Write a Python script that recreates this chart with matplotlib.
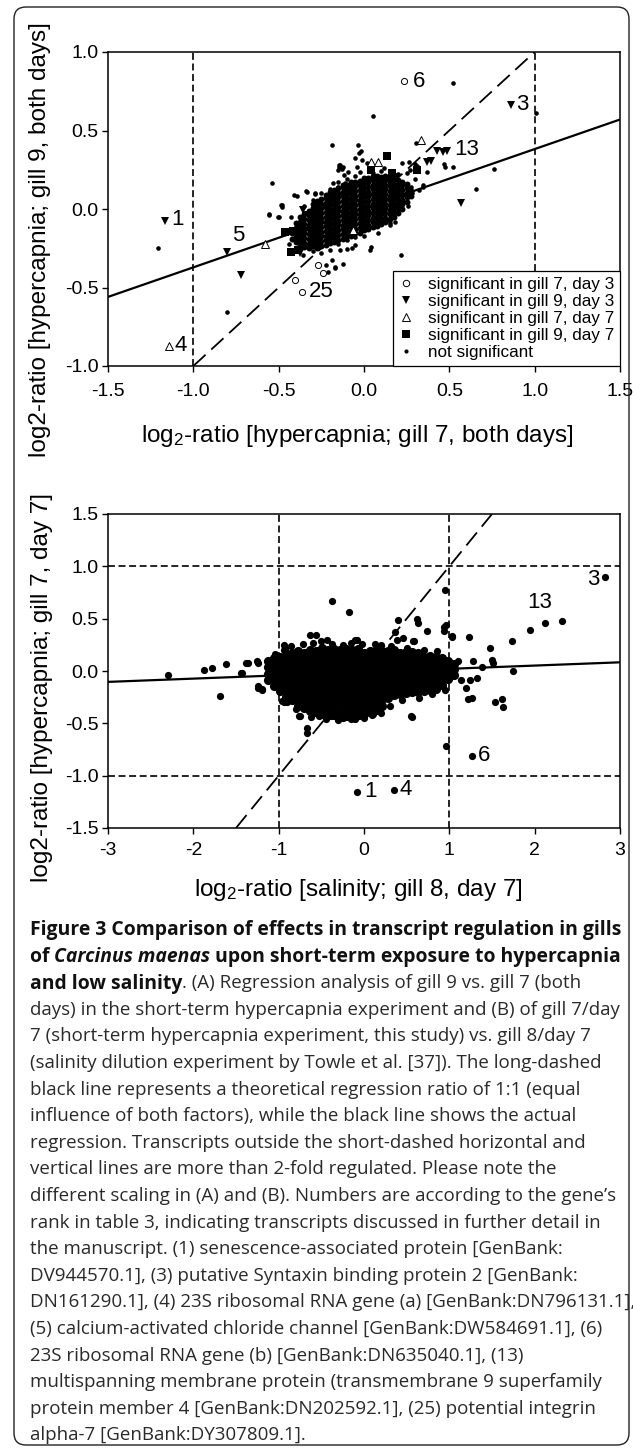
import matplotlib
matplotlib.use('Agg')
import matplotlib.pyplot as plt
from matplotlib.patches import FancyBboxPatch
from matplotlib.ticker import FormatStrFormatter
from matplotlib.lines import Line2D

plt.rcParams['font.family'] = ['Liberation Sans', 'DejaVu Sans']
plt.rcParams['axes.unicode_minus'] = False
plt.rcParams['lines.scale_dashes'] = False
plt.rcParams['mathtext.fontset'] = 'custom'
plt.rcParams['mathtext.rm'] = 'Liberation Sans'
plt.rcParams['mathtext.it'] = 'Liberation Sans:italic'
plt.rcParams['mathtext.bf'] = 'Liberation Sans:bold'

# ---------------- Panel A data ----------------
a_g7d3_x = [0.234, -0.405, -0.365, -0.268, -0.239]
a_g7d3_y = [0.817, -0.452, -0.527, -0.357, -0.406]
a_g9d3_x = [-1.166, -0.805, -0.72, 0.859, 0.43, 0.464, 0.484, 0.39, 0.566, -0.356, -0.327, 0.367, -0.375]
a_g9d3_y = [-0.074, -0.276, -0.42, 0.662, 0.37, 0.36, 0.37, 0.306, 0.036, -0.006, -0.038, 0.30, -0.28]
a_g7d7_x = [-1.143, -0.58, 0.334, 0.041, 0.08, -0.063]
a_g7d7_y = [-0.871, -0.225, 0.44, 0.297, 0.297, -0.134]
a_g9d7_x = [0.133, 0.041, 0.162, 0.312, -0.463, -0.414, -0.43, -0.389]
a_g9d7_y = [0.338, 0.248, 0.23, 0.248, -0.145, -0.138, -0.272, -0.261]
a_ns_pts = [
    (0.523, 0.80), (1.01, 0.61), (0.051, 0.592), (0.304, 0.42), (-0.186, 0.408), (-0.034, 0.41),
    (-0.018, 0.37), (0.22, 0.29), (0.298, 0.285), (0.474, 0.27), (0.52, 0.265), (0.763, 0.253),
    (0.656, 0.125), (-0.336, 0.11), (-0.287, 0.094), (-0.147, 0.27), (-0.13, 0.255), (-0.541, 0.168),
    (-0.482, 0.025), (-0.395, 0.083), (-1.209, -0.246), (-0.805, -0.654), (-0.487, 0.026),
    (-0.557, -0.038), (-0.498, -0.049), (-0.43, -0.049), (0.218, -0.293), (0.04, -0.24),
    (-0.125, -0.352), (-0.172, -0.373), (-0.224, -0.356), (-0.054, -0.23), (-0.073, -0.247),
    (0.035, -0.261), (-0.141, -0.261), (-0.102, -0.255), (-0.19, -0.325), (-0.17, -0.367),
    (-0.209, -0.40), (0.152, -0.102), (0.181, -0.081), (0.133, -0.07), (0.28, 0.10), (0.347, 0.142),
    (0.19, 0.217), (0.25, 0.227), (0.27, 0.248), (-0.014, 0.312), (0.015, 0.29), (-0.043, 0.27),
    (-0.024, 0.238), (-0.141, 0.28), (-0.15, 0.248), (-0.12, 0.217), (-0.18, 0.164), (-0.15, 0.142),
    (-0.112, 0.164), (-0.054, 0.323), (-0.03, 0.357), (-0.149, 0.283), (-0.125, 0.266), (-0.096, 0.234),
    (0.263, 0.298), (0.312, 0.276), (0.371, 0.234), (0.466, 0.287), (0.275, 0.14), (0.348, 0.15),
    (0.154, -0.086), (-0.479, 0.013), (-0.503, -0.051), (-0.554, -0.03), (-0.408, 0.087),
    (-0.337, 0.112), (-0.29, 0.102), (-0.30, -0.27), (-0.25, -0.28), (-0.20, -0.26), (-0.15, -0.22),
    (-0.10, -0.20), (-0.05, -0.18), (0.0, -0.17), (0.08, -0.15), (-0.35, 0.02), (-0.30, 0.06),
    (-0.25, 0.10), (-0.20, 0.13), (-0.15, 0.17), (-0.10, 0.19), (-0.05, 0.21), (0.05, 0.23),
    (0.10, 0.24), (0.15, 0.23), (0.30, 0.19), (0.32, 0.12), (0.22, 0.05), (0.26, 0.02),
    (-0.44, -0.22), (-0.40, -0.26), (-0.36, -0.29), (0.12, 0.26), (0.20, 0.22),
]
a_ns_core = [
    (-0.42, [-0.19, -0.15]),
    (-0.40, [-0.21, -0.18, -0.15, -0.12, -0.09]),
    (-0.375, [-0.23, -0.20, -0.17, -0.14, -0.11, -0.08, -0.05]),
    (-0.35, [-0.245, -0.215, -0.185, -0.155, -0.125, -0.095, -0.065, -0.035]),
    (-0.325, [-0.25, -0.22, -0.19, -0.16, -0.13, -0.10, -0.07, -0.04, -0.01]),
    (-0.30, [-0.235, -0.205, -0.175, -0.145, -0.115, -0.085, -0.055, -0.025, 0.005, 0.03]),
    (-0.275, [-0.25, -0.22, -0.19, -0.16, -0.13, -0.10, -0.07, -0.04, -0.01, 0.02, 0.05]),
    (-0.25, [-0.235, -0.205, -0.175, -0.145, -0.115, -0.085, -0.055, -0.025, 0.005, 0.035, 0.065]),
    (-0.225, [-0.23, -0.20, -0.17, -0.14, -0.11, -0.08, -0.05, -0.02, 0.01, 0.04, 0.07, 0.09]),
    (-0.20, [-0.215, -0.185, -0.155, -0.125, -0.095, -0.065, -0.035, -0.005, 0.025, 0.055, 0.085, 0.11]),
    (-0.175, [-0.21, -0.18, -0.15, -0.12, -0.09, -0.06, -0.03, 0.0, 0.03, 0.06, 0.09, 0.12]),
    (-0.15, [-0.195, -0.165, -0.135, -0.105, -0.075, -0.045, -0.015, 0.015, 0.045, 0.075, 0.105, 0.135]),
    (-0.125, [-0.19, -0.16, -0.13, -0.10, -0.07, -0.04, -0.01, 0.02, 0.05, 0.08, 0.11, 0.14, 0.155]),
    (-0.10, [-0.175, -0.145, -0.115, -0.085, -0.055, -0.025, 0.005, 0.035, 0.065, 0.095, 0.125, 0.155]),
    (-0.075, [-0.17, -0.14, -0.11, -0.08, -0.05, -0.02, 0.01, 0.04, 0.07, 0.10, 0.13, 0.16, 0.175]),
    (-0.05, [-0.155, -0.125, -0.095, -0.065, -0.035, -0.005, 0.025, 0.055, 0.085, 0.115, 0.145, 0.175]),
    (-0.025, [-0.15, -0.12, -0.09, -0.06, -0.03, 0.0, 0.03, 0.06, 0.09, 0.12, 0.15, 0.18]),
    (0.0, [-0.135, -0.105, -0.075, -0.045, -0.015, 0.015, 0.045, 0.075, 0.105, 0.135, 0.165, 0.195]),
    (0.025, [-0.13, -0.10, -0.07, -0.04, -0.01, 0.02, 0.05, 0.08, 0.11, 0.14, 0.17, 0.20]),
    (0.05, [-0.115, -0.085, -0.055, -0.025, 0.005, 0.035, 0.065, 0.095, 0.125, 0.155, 0.185, 0.21]),
    (0.075, [-0.11, -0.08, -0.05, -0.02, 0.01, 0.04, 0.07, 0.10, 0.13, 0.16, 0.19, 0.21]),
    (0.10, [-0.095, -0.065, -0.035, -0.005, 0.025, 0.055, 0.085, 0.115, 0.145, 0.175, 0.205]),
    (0.125, [-0.085, -0.055, -0.025, 0.005, 0.035, 0.065, 0.095, 0.125, 0.155, 0.185, 0.21]),
    (0.15, [-0.065, -0.035, -0.005, 0.025, 0.055, 0.085, 0.115, 0.145, 0.175, 0.20]),
    (0.175, [-0.05, -0.02, 0.01, 0.04, 0.07, 0.10, 0.13, 0.16, 0.19]),
    (0.20, [-0.025, 0.005, 0.035, 0.065, 0.095, 0.125, 0.155, 0.185]),
    (0.225, [0.0, 0.03, 0.06, 0.09, 0.12, 0.15, 0.175]),
    (0.25, [0.045, 0.075, 0.105, 0.135, 0.16]),
    (0.275, [0.085, 0.115]),
]
a_reg_x = [-1.5, 1.5]
a_reg_y = [-0.56, 0.57]
a_unity = [-1.0, 1.0]
a_labels = [('6', 0.285, 0.81), ('3', 0.89, 0.665), ('13', 0.53, 0.38), ('1', -1.13, -0.07),
            ('5', -0.775, -0.17), ('4', -1.11, -0.87), ('25', -0.325, -0.527)]
a_xticks = [-1.5, -1.0, -0.5, 0.0, 0.5, 1.0, 1.5]
a_yticks = [-1.0, -0.5, 0.0, 0.5, 1.0]
legend_labels = ['significant in gill 7, day 3', 'significant in gill 9, day 3',
                 'significant in gill 7, day 7', 'significant in gill 9, day 7', 'not significant']

# ---------------- Panel B data ----------------
b_pts = [
    (-2.293, -0.038), (-1.875, 0.010), (-1.785, 0.032), (-1.62, 0.064), (-1.687, -0.238), (-1.44, -0.016),
    (-1.356, 0.074), (-1.257, 0.096), (-1.24, -0.159), (-1.2, -0.18), (-0.934, -0.30), (-0.926, 0.223),
    (-0.92, 0.194), (-1.04, 0.16), (-0.77, -0.31), (-0.758, -0.426), (-0.378, 0.669), (-0.172, 0.567),
    (0.95, 0.774), (0.402, 0.488), (0.617, 0.494), (0.637, 0.456), (0.363, 0.376), (0.383, 0.297),
    (0.735, 0.383), (0.937, 0.383), (0.961, 0.44), (1.03, 0.328), (1.234, 0.328), (0.59, 0.287),
    (-0.566, 0.344), (-0.086, 0.297), (1.477, 0.217), (1.74, 0.287), (1.106, 0.096), (1.28, 0.096),
    (1.497, 0.106), (1.379, 0.042), (1.515, 0.074), (1.75, 0.0), (1.137, -0.085), (1.242, -0.085),
    (1.32, -0.069), (1.19, -0.159), (1.262, -0.255), (1.535, -0.293), (1.621, -0.267), (1.625, -0.34),
    (0.961, -0.713), (1.27, -0.808), (-0.078, -1.158), (0.352, -1.136), (0.567, -0.442), (0.09, -0.42),
    (-0.672, -0.547), (-0.672, -0.595), (2.822, 0.894), (1.95, 0.39), (2.12, 0.46), (2.32, 0.48),
    (-0.627, 0.345), (-0.437, 0.298), (-0.107, 0.298), (0.129, 0.26), (0.46, 0.314), (0.578, 0.282),
    (0.932, 0.425), (1.027, 0.33), (-1.242, 0.077), (-1.38, 0.077), (-1.43, -0.02), (-1.24, -0.145),
    (-1.195, -0.176), (-0.934, 0.203), (-0.934, 0.25), (-0.96, -0.286), (-0.745, -0.43), (-0.533, -0.43),
    (-0.391, -0.43), (-0.249, -0.445), (-0.107, -0.46), (-0.06, -0.43), (0.106, -0.414), (0.555, -0.43),
    (1.216, -0.27),
    (-0.85, 0.24), (-0.72, 0.26), (-0.60, 0.27), (-0.50, 0.29), (-0.38, 0.26), (-0.25, 0.25),
    (-0.15, 0.27), (-0.02, 0.26), (0.20, 0.25), (0.32, 0.24), (0.50, 0.22), (0.70, 0.20), (0.85, 0.19),
    (-0.90, -0.30), (-0.80, -0.36), (-0.62, -0.44), (-0.45, -0.46), (-0.30, -0.47), (-0.15, -0.46),
    (0.0, -0.45), (0.20, -0.40), (0.30, -0.33), (0.45, -0.28), (0.65, -0.26), (0.80, -0.22), (0.95, -0.18),
]
b_core = [
    (-1.12, [-0.09, -0.025, 0.04, 0.10]),
    (-1.05, [-0.14, -0.075, -0.01, 0.055, 0.12]),
    (-0.98, [-0.19, -0.125, -0.06, 0.005, 0.07, 0.135]),
    (-0.91, [-0.245, -0.18, -0.115, -0.05, 0.015, 0.08, 0.145]),
    (-0.84, [-0.28, -0.215, -0.15, -0.085, -0.02, 0.045, 0.11, 0.175]),
    (-0.77, [-0.33, -0.265, -0.20, -0.135, -0.07, -0.005, 0.06, 0.125, 0.19]),
    (-0.70, [-0.35, -0.285, -0.22, -0.155, -0.09, -0.025, 0.04, 0.105, 0.17]),
    (-0.63, [-0.38, -0.315, -0.25, -0.185, -0.12, -0.055, 0.01, 0.075, 0.14, 0.20]),
    (-0.56, [-0.395, -0.33, -0.265, -0.20, -0.135, -0.07, -0.005, 0.06, 0.125, 0.19]),
    (-0.49, [-0.41, -0.345, -0.28, -0.215, -0.15, -0.085, -0.02, 0.045, 0.11, 0.175, 0.22]),
    (-0.42, [-0.42, -0.355, -0.29, -0.225, -0.16, -0.095, -0.03, 0.035, 0.10, 0.165, 0.20]),
    (-0.35, [-0.425, -0.36, -0.295, -0.23, -0.165, -0.10, -0.035, 0.03, 0.095, 0.16, 0.21]),
    (-0.28, [-0.43, -0.365, -0.30, -0.235, -0.17, -0.105, -0.04, 0.025, 0.09, 0.155, 0.20]),
    (-0.21, [-0.43, -0.365, -0.30, -0.235, -0.17, -0.105, -0.04, 0.025, 0.09, 0.155, 0.21]),
    (-0.14, [-0.43, -0.365, -0.30, -0.235, -0.17, -0.105, -0.04, 0.025, 0.09, 0.155, 0.20]),
    (-0.07, [-0.42, -0.355, -0.29, -0.225, -0.16, -0.095, -0.03, 0.035, 0.10, 0.165, 0.21]),
    (0.00, [-0.41, -0.345, -0.28, -0.215, -0.15, -0.085, -0.02, 0.045, 0.11, 0.175]),
    (0.07, [-0.39, -0.325, -0.26, -0.195, -0.13, -0.065, 0.0, 0.065, 0.13, 0.195]),
    (0.14, [-0.37, -0.305, -0.24, -0.175, -0.11, -0.045, 0.02, 0.085, 0.15, 0.20]),
    (0.21, [-0.33, -0.265, -0.20, -0.135, -0.07, -0.005, 0.06, 0.125, 0.19]),
    (0.28, [-0.26, -0.195, -0.13, -0.065, 0.0, 0.065, 0.13, 0.19]),
    (0.35, [-0.23, -0.165, -0.10, -0.035, 0.03, 0.095, 0.16, 0.20]),
    (0.42, [-0.22, -0.155, -0.09, -0.025, 0.04, 0.105, 0.17]),
    (0.49, [-0.21, -0.145, -0.08, -0.015, 0.05, 0.115, 0.18]),
    (0.56, [-0.20, -0.135, -0.07, -0.005, 0.06, 0.125, 0.18]),
    (0.63, [-0.20, -0.135, -0.07, -0.005, 0.06, 0.125, 0.17]),
    (0.70, [-0.19, -0.125, -0.06, 0.005, 0.07, 0.135]),
    (0.77, [-0.18, -0.115, -0.05, 0.015, 0.08, 0.14]),
    (0.84, [-0.17, -0.105, -0.04, 0.025, 0.09, 0.13]),
    (0.91, [-0.13, -0.065, 0.0, 0.065, 0.12]),
    (0.98, [-0.08, -0.015, 0.05, 0.10]),
    (1.05, [-0.04, 0.02, 0.07]),
]
b_reg_x = [-3.0, 3.0]
b_reg_y = [-0.104, 0.083]
b_unity = [-1.5, 1.5]
b_labels = [('3', 2.76, 0.87, 'right'), ('13', 2.06, 0.65, 'center'), ('6', 1.33, -0.81, 'left'),
            ('1', 0.0, -1.155, 'left'), ('4', 0.415, -1.135, 'left')]
b_xticks = [-3, -2, -1, 0, 1, 2, 3]
b_yticks = [-1.5, -1.0, -0.5, 0.0, 0.5, 1.0, 1.5]

caption_lines = [
    [("Figure 3 Comparison of effects in transcript regulation in gills", 'bold', 'normal')],
    [("of ", 'bold', 'normal'), ("Carcinus maenas", 'bold', 'italic'),
     (" upon short-term exposure to hypercapnia", 'bold', 'normal')],
    [("and low salinity", 'bold', 'normal'),
     (". (A) Regression analysis of gill 9 vs. gill 7 (both", 'normal', 'normal')],
    [("days) in the short-term hypercapnia experiment and (B) of gill 7/day", 'normal', 'normal')],
    [("7 (short-term hypercapnia experiment, this study) vs. gill 8/day 7", 'normal', 'normal')],
    [("(salinity dilution experiment by Towle et al. [37]). The long-dashed", 'normal', 'normal')],
    [("black line represents a theoretical regression ratio of 1:1 (equal", 'normal', 'normal')],
    [("influence of both factors), while the black line shows the actual", 'normal', 'normal')],
    [("regression. Transcripts outside the short-dashed horizontal and", 'normal', 'normal')],
    [("vertical lines are more than 2-fold regulated. Please note the", 'normal', 'normal')],
    [("different scaling in (A) and (B). Numbers are according to the gene\u2019s", 'normal', 'normal')],
    [("rank in table 3, indicating transcripts discussed in further detail in", 'normal', 'normal')],
    [("the manuscript. (1) senescence-associated protein [GenBank:", 'normal', 'normal')],
    [("DV944570.1], (3) putative Syntaxin binding protein 2 [GenBank:", 'normal', 'normal')],
    [("DN161290.1], (4) 23S ribosomal RNA gene (a) [GenBank:DN796131.1],", 'normal', 'normal')],
    [("(5) calcium-activated chloride channel [GenBank:DW584691.1], (6)", 'normal', 'normal')],
    [("23S ribosomal RNA gene (b) [GenBank:DN635040.1], (13)", 'normal', 'normal')],
    [("multispanning membrane protein (transmembrane 9 superfamily", 'normal', 'normal')],
    [("protein member 4 [GenBank:DN202592.1], (25) potential integrin", 'normal', 'normal')],
    [("alpha-7 [GenBank:DY307809.1].", 'normal', 'normal')],
]

# ---------------- Figure ----------------
W, H = 633, 1451
fig = plt.figure(figsize=(W / 100, H / 100), dpi=100)
fig.patch.set_facecolor('white')

def axrect(l, t, r, b):
    return [l / W, 1 - b / H, (r - l) / W, (b - t) / H]

ax1 = fig.add_axes(axrect(108, 52, 620, 366))
ax2 = fig.add_axes(axrect(108, 514, 620, 828))

short_dash = (0, (5.0, 2.6))
long_dash = (0, (12.0, 5.5))

# Panel A
ax1.axvline(-1, color='black', lw=1.2, ls=short_dash, zorder=1)
ax1.axvline(1, color='black', lw=1.2, ls=short_dash, zorder=1)
ax1.plot(a_unity, a_unity, color='black', lw=1.3, ls=long_dash, zorder=1)
ax1.plot(a_reg_x, a_reg_y, color='black', lw=1.6, zorder=2)
core_x = [cx for cx, ys in a_ns_core for _ in ys]
core_y = [cy for cx, ys in a_ns_core for cy in ys]
ax1.plot([p[0] for p in a_ns_pts], [p[1] for p in a_ns_pts], ls='none', marker='o', ms=3.3,
         mfc='black', mec='black', mew=0, zorder=3)
# dense, overlapping core of the same "not significant" series
ax1.plot(core_x, core_y, ls='none', marker='o', ms=4.3, mfc='black', mec='black', mew=0, zorder=3)
ax1.plot(a_g9d7_x, a_g9d7_y, ls='none', marker='s', ms=5.8, mfc='black', mec='black', mew=0, zorder=4)
ax1.plot(a_g9d3_x, a_g9d3_y, ls='none', marker='v', ms=6.2, mfc='black', mec='black', mew=0, zorder=4)
ax1.plot(a_g7d7_x, a_g7d7_y, ls='none', marker='^', ms=5.5, mfc='white', mec='black', mew=0.7, zorder=5)
ax1.plot(a_g7d3_x, a_g7d3_y, ls='none', marker='o', ms=4.4, mfc='white', mec='black', mew=0.7, zorder=5)
for txt, tx, ty in a_labels:
    ax1.text(tx, ty, txt, fontsize=16, ha='left', va='center', zorder=6)
ax1.set_xlim(-1.5, 1.5)
ax1.set_ylim(-1.0, 1.0)
ax1.set_xticks(a_xticks)
ax1.set_yticks(a_yticks)
ax1.xaxis.set_major_formatter(FormatStrFormatter('%.1f'))
ax1.yaxis.set_major_formatter(FormatStrFormatter('%.1f'))

leg_handles = [
    Line2D([], [], ls='none', marker='o', ms=4.6, mfc='white', mec='black', mew=0.7),
    Line2D([], [], ls='none', marker='v', ms=6.0, mfc='black', mec='black', mew=0),
    Line2D([], [], ls='none', marker='^', ms=5.2, mfc='white', mec='black', mew=0.7),
    Line2D([], [], ls='none', marker='s', ms=5.2, mfc='black', mec='black', mew=0),
    Line2D([], [], ls='none', marker='o', ms=3.0, mfc='black', mec='black', mew=0),
]
leg = ax1.legend(leg_handles, legend_labels, loc='lower right', bbox_to_anchor=(1.0, 0.0),
                 borderaxespad=0, fontsize=12.3, frameon=True, fancybox=False, edgecolor='black',
                 handlelength=0.8, handletextpad=0.9, labelspacing=0.12, borderpad=0.35,
                 numpoints=1, framealpha=1)
leg.get_frame().set_linewidth(0.9)
leg.set_zorder(10)

# Panel B
ax2.axvline(-1, color='black', lw=1.2, ls=short_dash, zorder=1)
ax2.axvline(1, color='black', lw=1.2, ls=short_dash, zorder=1)
ax2.axhline(-1, color='black', lw=1.2, ls=short_dash, zorder=1)
ax2.axhline(1, color='black', lw=1.2, ls=short_dash, zorder=1)
ax2.plot(b_unity, b_unity, color='black', lw=1.3, ls=long_dash, zorder=1)
ax2.plot(b_reg_x, b_reg_y, color='black', lw=1.6, zorder=2)
ax2.plot([p[0] for p in b_pts], [p[1] for p in b_pts], ls='none', marker='o', ms=5.2,
         mfc='black', mec='black', mew=0, zorder=3)
bcx = [cx for cx, ys in b_core for _ in ys]
bcy = [cy for cx, ys in b_core for cy in ys]
ax2.plot(bcx, bcy, ls='none', marker='o', ms=6.6, mfc='black', mec='black', mew=0, zorder=3)
for txt, tx, ty, ha in b_labels:
    ax2.text(tx, ty, txt, fontsize=16, ha=ha, va='center', zorder=6)
ax2.set_xlim(-3, 3)
ax2.set_ylim(-1.5, 1.5)
ax2.set_xticks(b_xticks)
ax2.set_yticks(b_yticks)
ax2.yaxis.set_major_formatter(FormatStrFormatter('%.1f'))

for ax in (ax1, ax2):
    for sp in ax.spines.values():
        sp.set_linewidth(1.1)
    ax.tick_params(direction='out', length=4, width=1.0, labelsize=14, pad=3)
ax1.tick_params(axis='x', pad=8)
ax2.tick_params(axis='x', pad=6)

# axis labels
fig.text(40 / W, 1 - 240 / H, 'log2-ratio [hypercapnia; gill 9, both days]', rotation=90,
         ha='center', va='center', fontsize=17.5)
fig.text(42 / W, 1 - 687 / H, 'log2-ratio [hypercapnia; gill 7, day 7]', rotation=90,
         ha='center', va='center', fontsize=17.5)
fig.text(357 / W, 1 - 436 / H, r'log$_{2}$-ratio [hypercapnia; gill 7, both days]',
         ha='center', va='center', fontsize=17.5)
fig.text(358 / W, 1 - 890 / H, r'log$_{2}$-ratio [salinity; gill 8, day 7]',
         ha='center', va='center', fontsize=17.5)

# frame
frame = FancyBboxPatch((0.14, 0.06), 6.15, 14.38, boxstyle='round,pad=0,rounding_size=0.12',
                       transform=fig.dpi_scale_trans, fill=False, lw=1.0, ec='#222222')
fig.add_artist(frame)

# caption
renderer = fig.canvas.get_renderer()
cap_font = 'Open Sans'

def text_width(s, size, weight, style):
    t = fig.text(0, 0, s, fontsize=size, fontweight=weight, fontstyle=style, family=cap_font)
    w = t.get_window_extent(renderer).width
    t.remove()
    return w

target = 589.0
bold_size = 12.0 * target / text_width(caption_lines[0][0][0], 12.0, 'bold', 'normal')
reg_size = 12.0 * target / text_width(caption_lines[3][0][0], 12.0, 'normal', 'normal')

x0 = 30.0
for i, segs in enumerate(caption_lines):
    yc = 928 + 26.6 * i
    x = x0
    for s, weight, style in segs:
        size = bold_size if weight == 'bold' else reg_size
        col = '#111111' if weight == 'bold' else '#2a2a2a'
        t = fig.text(x / W, 1 - yc / H, s, fontsize=size, fontweight=weight, fontstyle=style,
                     family=cap_font, ha='left', va='center_baseline', color=col)
        x += t.get_window_extent(renderer).width

fig.savefig('out.png', dpi=100, facecolor='white')
